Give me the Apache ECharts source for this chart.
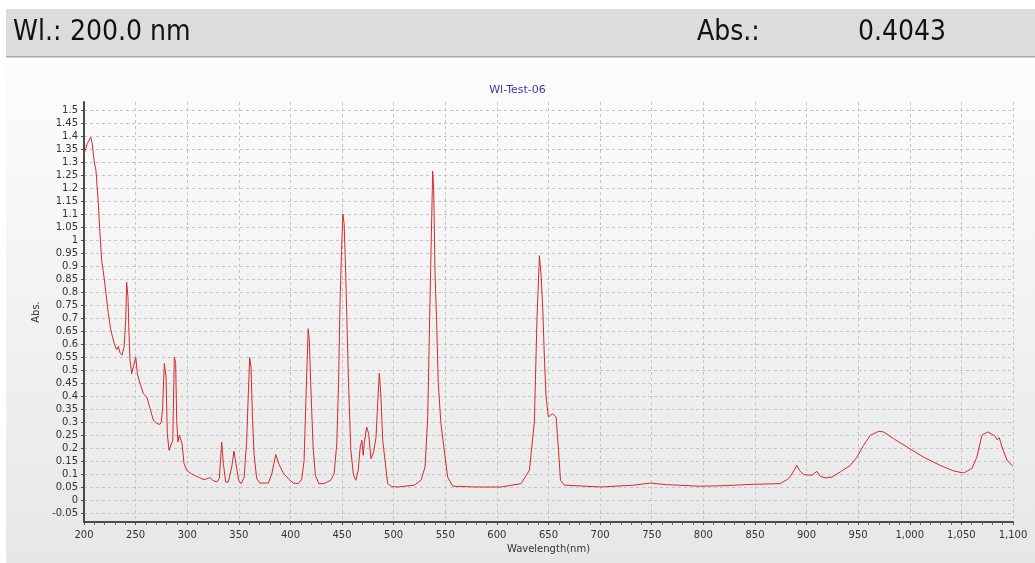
<!DOCTYPE html>
<html>
<head>
<meta charset="utf-8">
<script src="https://cdn.jsdelivr.net/npm/echarts@6/dist/echarts.min.js"></script>
<style>
html,body{margin:0;padding:0;background:#ffffff;}
#chart{width:1035px;height:563px;}
</style>
</head>
<body>
<div id="chart"></div>
<script>
// ---- data ----
const chartTitle = 'Wl-Test-06';
const headerWlLabel = 'Wl.:';
const headerWlValue = '200.0 nm';
const headerAbsLabel = 'Abs.:';
const headerAbsValue = '0.4043';
const xAxisName = 'Wavelength(nm)';
const yAxisName = 'Abs.';

const wavelengths = [
 200,203,206.5,208,209.7,211.6,213.9,215.5,217.1,219.4,221.3,223.6,225.2,226.8,229.4,231.7,233.3,235,236.8,238.8,
 240.4,241.3,242.6,243.6,244.6,246.2,247.8,250.1,251.7,254.3,257.5,260.8,264,267.2,270.4,273.6,274.9,276.2,277.8,279.5,
 280.7,282.4,284,286,287.5,288.8,289.8,291,292.3,293.7,295,296.9,299.5,304.3,310.8,316.3,318.9,322.1,324.7,328.6,
 331.1,333.4,335,337.3,339.8,343.1,345.3,347.2,349.8,352.3,355.2,357.6,359.2,360.5,361.8,363.1,364.7,367.3,370.5,378.6,
 381.9,385.8,389.3,393.1,398,402.8,407.7,410.9,413.2,415.1,417.2,418.3,419.7,422,424.2,427.5,432.5,439,442.3,444.9,
 446.6,448.1,449.5,450.8,452,453.4,454.6,456.3,458.5,461.1,463.4,465.6,467.6,469.2,470.5,471.5,473.8,475.8,478,480.6,
 482.9,484.5,486.1,487.7,489.4,491.6,494.2,498,503.9,520,526.5,530.4,533,534.9,536.2,537.8,538.8,540,541.7,543.2,
 545.8,549,552.3,557.2,580,604,623.4,631.5,636.3,638.9,641.2,642.8,644.4,646,647.6,649.9,651.9,654.2,657.4,659.7,
 661.6,665.5,701,732.3,748.5,764.6,797,820,845.4,874.5,882.5,885.8,890.6,893.2,897.1,905.2,910,913.3,918.1,924.6,
 932.6,942.3,948.8,955.2,961.7,969.8,974.6,984.3,997.3,1013.3,1029.5,1042.4,1052.1,1060.2,1065,1069.9,1075.4,1079.6,1082.8,1084.5,
 1086.7,1089.3,1094.2,1099,1100
];
const absorbance = [
 1.33,1.37,1.396,1.37,1.307,1.268,1.14,1.025,0.922,0.858,0.794,0.717,0.672,0.64,0.60,0.578,0.591,0.565,0.557,0.588,
 0.69,0.838,0.78,0.641,0.537,0.486,0.48,0.55,0.486,0.448,0.409,0.396,0.352,0.307,0.294,0.291,0.30,0.358,0.525,0.473,
 0.255,0.191,0.185,0.23,0.55,0.525,0.307,0.223,0.249,0.255,0.217,0.14,0.114,0.10,0.088,0.078,0.082,0.086,0.076,0.069,
 0.082,0.223,0.14,0.069,0.069,0.127,0.188,0.14,0.076,0.063,0.088,0.23,0.409,0.548,0.512,0.332,0.178,0.082,0.065,0.065,
 0.10,0.175,0.133,0.104,0.082,0.065,0.063,0.08,0.15,0.40,0.659,0.614,0.44,0.2,0.095,0.063,0.063,0.076,0.10,0.217,
 0.448,0.768,0.96,1.10,1.063,0.896,0.704,0.448,0.191,0.095,0.076,0.114,0.204,0.23,0.172,0.217,0.281,0.255,0.159,0.185,
 0.242,0.371,0.488,0.396,0.23,0.153,0.063,0.052,0.05,0.057,0.076,0.127,0.319,0.704,0.96,1.265,1.19,0.884,0.678,0.448,
 0.294,0.191,0.088,0.053,0.05,0.05,0.063,0.114,0.30,0.704,0.94,0.865,0.74,0.55,0.40,0.319,0.326,0.332,0.319,0.191,
 0.076,0.057,0.05,0.057,0.065,0.059,0.053,0.055,0.06,0.063,0.082,0.10,0.133,0.114,0.098,0.095,0.11,0.091,0.085,0.088,
 0.108,0.133,0.165,0.21,0.249,0.264,0.262,0.236,0.204,0.165,0.133,0.112,0.104,0.121,0.165,0.249,0.262,0.253,0.245,0.232,
 0.24,0.204,0.153,0.133,0.13
];
const yTickValues = [-0.05,0,0.05,0.1,0.15,0.2,0.25,0.3,0.35,0.4,0.45,0.5,0.55,0.6,0.65,0.7,0.75,0.8,0.85,0.9,
 0.95,1,1.05,1.1,1.15,1.2,1.25,1.3,1.35,1.4,1.45,1.5];

// ---- chart ----
const chart = echarts.init(document.getElementById('chart'), null, {renderer:'canvas'});
const seriesData = wavelengths.map((w,i)=>[w, absorbance[i]]);
const labelFont = 'DejaVu Sans, Verdana, sans-serif';
const headerFont = '28px "DejaVu Sans Condensed", "Liberation Sans", sans-serif';

chart.setOption({
  animation:false,
  backgroundColor:'transparent',
  graphic:[
    {type:'rect', z:-10, silent:true, shape:{x:0,y:0,width:1035,height:563}, style:{fill:'#ffffff'}},
    {type:'rect', z:-9, silent:true, shape:{x:6,y:57,width:1029,height:506},
      style:{fill:new echarts.graphic.LinearGradient(0,0,0,1,[{offset:0,color:'#fdfdfd'},{offset:1,color:'#e7e7e7'}])}},
    {type:'rect', z:-8, silent:true, shape:{x:6,y:9,width:1029,height:47}, style:{fill:'#dcdcdc'}},
    {type:'rect', z:-8, silent:true, shape:{x:6,y:56,width:1029,height:1.5}, style:{fill:'#a9a9a9'}},
    {type:'text', z:5, left:13, top:19, style:{text:headerWlLabel, font:headerFont, fill:'#111'}},
    {type:'text', z:5, left:70, top:19, style:{text:headerWlValue, font:headerFont, fill:'#111'}},
    {type:'text', z:5, left:697, top:19, style:{text:headerAbsLabel, font:headerFont, fill:'#111'}},
    {type:'text', z:5, left:858, top:19, style:{text:headerAbsValue, font:headerFont, fill:'#111'}}
  ],
  title:{
    text:chartTitle, left:'center', top:80,
    textStyle:{fontFamily:labelFont, fontSize:11, fontWeight:'normal', color:'#3a3ab8'}
  },
  grid:{left:84, right:22, top:102, bottom:41, show:false},
  xAxis:{
    type:'value', min:200, max:1100, interval:50,
    name:xAxisName, nameLocation:'middle', nameGap:22,
    nameTextStyle:{fontFamily:labelFont, fontSize:10, color:'#333'},
    axisLine:{show:true, onZero:false, lineStyle:{color:'#4a4a4a', width:2}},
    axisTick:{show:true, length:3, lineStyle:{color:'#4a4a4a'}},
    minorTick:{show:true, splitNumber:5, length:3, lineStyle:{color:'#666'}},
    axisLabel:{fontFamily:labelFont, fontSize:10, color:'#333', margin:8,
      formatter:v=>Number(v).toLocaleString('en-US')},
    splitLine:{show:true, lineStyle:{color:'#c4c4c4', type:[3,3], width:1}}
  },
  yAxis:{
    type:'value', min:-0.0846, max:1.531,
    name:yAxisName, nameLocation:'middle', nameGap:29, nameRotate:90,
    nameTextStyle:{fontFamily:labelFont, fontSize:10, color:'#333'},
    axisLine:{show:true, onZero:false, lineStyle:{color:'#4a4a4a', width:2}},
    axisTick:{show:true, length:3, customValues:yTickValues, lineStyle:{color:'#4a4a4a'}},
    axisLabel:{fontFamily:labelFont, fontSize:10, color:'#333', margin:6, customValues:yTickValues,
      formatter:v=>String(parseFloat(Number(v).toFixed(2)))},
    splitLine:{show:true, lineStyle:{color:'#c4c4c4', type:[3,3], width:1}}
  },
  series:[{
    type:'line', data:seriesData, showSymbol:false, symbol:'none',
    lineStyle:{color:'#d42a2a', width:1}, z:3
  }]
});
</script>
</body>
</html>
